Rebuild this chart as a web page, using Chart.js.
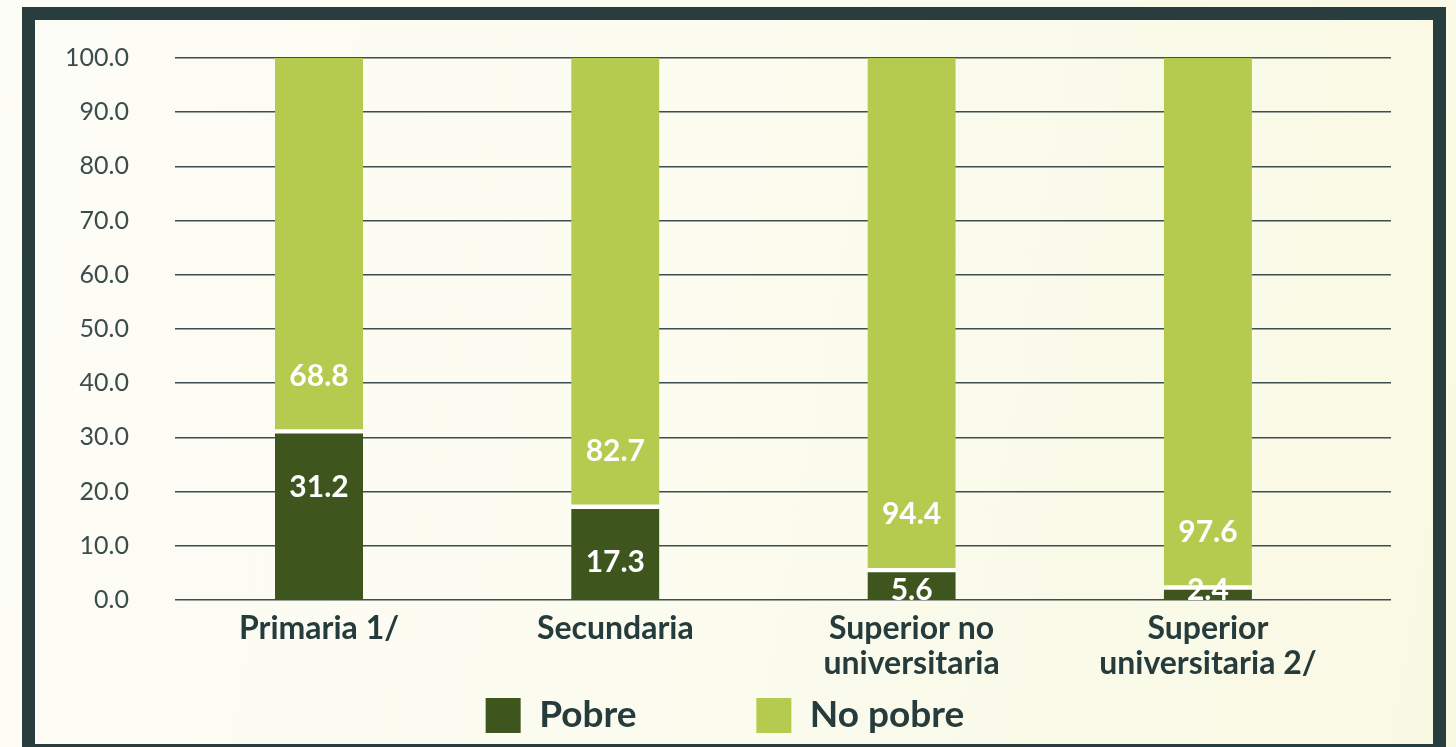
<!DOCTYPE html>
<html>
<head>
<meta charset="utf-8">
<script src="https://cdn.jsdelivr.net/npm/chart.js@4.4.1/dist/chart.umd.min.js"></script>
<style>
  html, body { margin: 0; padding: 0; }
  body {
    width: 1456px; height: 747px; overflow: hidden; position: relative;
    background: linear-gradient(100deg, #fdfdf7 0%, #fbfbee 55%, #f9f9e3 100%);
  }
  .frame {
    position: absolute; left: 22px; top: 7px;
    width: 1398px; height: 724px;
    border: 13px solid #283d3e;
  }
  canvas { display: block; }
</style>
</head>
<body>
<div class="frame"><canvas id="chart" width="1398" height="724"></canvas></div>
<script>
// Data
const categories = ['Primaria 1/', 'Secundaria', ['Superior no', 'universitaria'], ['Superior', 'universitaria 2/']];
const pobre = [31.2, 17.3, 5.6, 2.4];
const noPobre = [68.8, 82.7, 94.4, 97.6];
const seriesNames = ['Pobre', 'No pobre'];
const yMin = 0;
const yMax = 100;
const yStep = 10;

const TEXT = '#263c3c';
const DARK = '#3e551e';
const LIGHT = '#b4cb4f';

Chart.defaults.font.family = 'Lato, "Open Sans", sans-serif';

// Value labels inside the segments, clipped to the plot area
const segmentLabels = {
    id: 'segmentLabels',
    afterDatasetsDraw(chart) {
        const { ctx, chartArea } = chart;
        ctx.save();
        ctx.beginPath();
        ctx.rect(chartArea.left, chartArea.top, chartArea.right - chartArea.left, chartArea.bottom - chartArea.top);
        ctx.clip();
        ctx.font = 'bold 30px Lato, "Open Sans", sans-serif';
        ctx.fillStyle = '#ffffff';
        ctx.textAlign = 'center';
        ctx.textBaseline = 'middle';
        chart.data.datasets.forEach((ds, di) => {
            chart.getDatasetMeta(di).data.forEach((bar, i) => {
                const v = ds.data[i].y;
                const y = di === 0
                    ? Math.min(bar.y + 56, chartArea.bottom - 10)
                    : bar.base - 55;
                ctx.fillText(v.toFixed(1), bar.x, y);
            });
        });
        ctx.restore();
    }
};

const ctx = document.getElementById('chart').getContext('2d');
const chart = new Chart(ctx, {
    type: 'bar',
    data: {
        datasets: [
            {
                label: seriesNames[0],
                data: pobre.map((v, i) => ({ x: i, y: v })),
                backgroundColor: DARK,
                borderColor: '#ffffff',
                borderWidth: { top: 3 },
                borderSkipped: 'start',
                barThickness: 88
            },
            {
                label: seriesNames[1],
                data: noPobre.map((v, i) => ({ x: i, y: v })),
                backgroundColor: LIGHT,
                borderColor: '#ffffff',
                borderWidth: { bottom: 2 },
                borderSkipped: false,
                barThickness: 88
            }
        ]
    },
    options: {
        responsive: false,
        animation: false,
        layout: { padding: { left: 24, right: 42, top: 38, bottom: 0 } },
        scales: {
            x: {
                type: 'linear',
                stacked: true,
                offset: false,
                min: -0.486,
                max: 3.618,
                grid: { display: false },
                border: { display: false },
                afterBuildTicks: (scale) => { scale.ticks = categories.map((_, i) => ({ value: i })); },
                afterFit: (scale) => { scale.height = 85; },
                ticks: {
                    autoSkip: false,
                    maxRotation: 0,
                    padding: 3,
                    color: TEXT,
                    font: { size: 32, weight: 'bold', lineHeight: 1.1 },
                    callback: (value) => categories[value]
                }
            },
            y: {
                stacked: true,
                min: yMin,
                max: yMax,
                grid: { color: '#3a4f4f', lineWidth: 1.5, drawTicks: true, tickLength: 46, tickColor: 'rgba(0,0,0,0)' },
                border: { display: false },
                afterFit: (scale) => { scale.width = 116; },
                ticks: {
                    stepSize: yStep,
                    padding: 0,
                    color: '#3a4c4c',
                    font: { size: 25 },
                    callback: (v) => v.toFixed(1)
                }
            }
        },
        plugins: {
            tooltip: { enabled: false },
            legend: {
                position: 'bottom',
                labels: {
                    boxWidth: 35,
                    boxHeight: 35,
                    padding: 12,
                    color: TEXT,
                    font: { size: 37, weight: 'bold' },
                    generateLabels: (c) => {
                        const items = Chart.defaults.plugins.legend.labels.generateLabels(c);
                        items.forEach(it => { it.lineWidth = 0; });
                        items[0].text += ' '.repeat(12);
                        return items;
                    }
                }
            }
        }
    },
    plugins: [segmentLabels]
});
</script>
</body>
</html>
